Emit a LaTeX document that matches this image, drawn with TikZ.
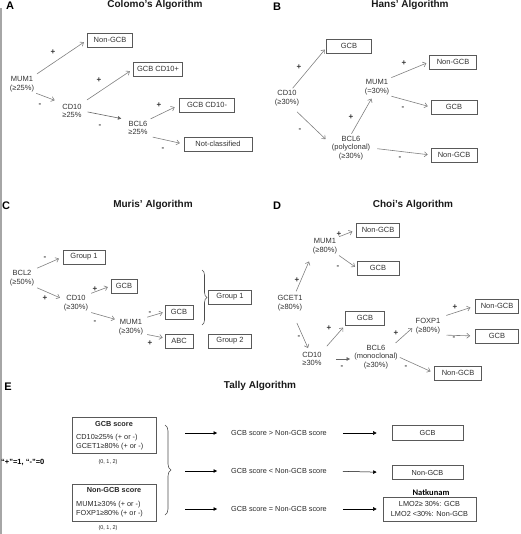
\documentclass[tikz,border=0pt]{standalone}
\usepackage{fontspec}
\setmainfont{Liberation Sans}
\newfontfamily\calib{Carlito}
\usetikzlibrary{arrows.meta,decorations.pathreplacing}
\begin{document}
\begin{tikzpicture}[x=1pt,y=-1pt,
  tx/.style={font=\fontsize{7.5}{8.8}\selectfont, text=black!80, align=center, inner sep=1pt},
  bx/.style={tx, draw=black!65, line width=0.6pt, minimum height=14pt, inner sep=2pt},
  ttl/.style={font=\fontsize{10}{12}\selectfont\bfseries, text=black!90, inner sep=0pt},
  pl/.style={font=\fontsize{11}{12}\selectfont\bfseries, inner sep=0pt},
  sg/.style={font=\fontsize{8}{9}\selectfont\bfseries, text=black!80, inner sep=0pt},
  ar/.style={draw=black!50, line width=0.6pt, -{Straight Barb[length=3pt,width=5pt]}},
  arf/.style={draw=black!60, line width=0.6pt, -{Triangle[length=3.5pt,width=3.5pt]}},
  ark/.style={draw=black, line width=0.5pt, -{Triangle[length=3.5pt,width=3.5pt]}},
  et/.style={font=\fontsize{7.3}{9}\selectfont, text=black!85, inner sep=1pt},
  ebx/.style={draw=black!65, line width=0.6pt, inner sep=0pt},
  brc/.style={draw=black!70, line width=0.6pt, decorate}
]
\useasboundingbox (0,0) rectangle (520,534);
\draw[black!35, line width=1.2pt] (1,8) -- (1,534);

% ---------------- Panel A
\node[pl] (pA) at (10,6) {A};
\node[ttl] (tA) at (155,5) {Colomo's Algorithm};
\node[bx,minimum width=45pt] (ngA) at (110,40) {Non-GCB};
\node[bx,minimum width=49pt] (g1A) at (158,69) {GCB CD10+};
\node[bx,minimum width=55pt] (g2A) at (207,105) {GCB CD10-};
\node[bx,minimum width=68pt] (ncA) at (218,144) {Not-classified};
\node[tx] (mA) at (22,84) {MUM1\\(≥25\%)};
\node[tx] (cA) at (72,111) {CD10\\≥25\%};
\node[tx] (bA) at (138,128) {BCL6\\≥25\%};
\node[sg] (sA1) at (53,52) {+};
\node[sg] (sA2) at (40,105) {-};
\node[sg] (sA3) at (99,80) {+};
\node[sg] (sA4) at (100,126) {-};
\node[sg] (sA5) at (159,105) {+};
\node[sg] (sA6) at (163,149) {-};
\draw[ar,shorten <=2pt,shorten >=4pt] (mA.north east) -- (ngA.west);
\draw[ar,shorten <=1pt,shorten >=7pt] (mA.south east) -- (cA.north west);
\draw[ar,shorten <=5pt,shorten >=4pt] (cA.north east) -- (g1A.west);
\draw[arf,shorten <=5pt,shorten >=6pt] (cA.east) -- (bA.north west);
\draw[ar,shorten <=2pt,shorten >=5pt] (bA.north east) -- (g2A.west);
\draw[ar,shorten <=4pt,shorten >=4pt] (bA.south east) -- (ncA.west);

% ---------------- Panel B
\node[pl] (pB) at (277,7) {B};
\node[ttl] (tB) at (410,5) {Hans' Algorithm};
\node[bx,minimum width=45pt] (gB) at (349,46) {GCB};
\node[bx,minimum width=47pt] (ng1B) at (453,62) {Non-GCB};
\node[bx,minimum width=46pt] (g2B) at (454,107) {GCB};
\node[bx,minimum width=46pt] (ng2B) at (454,155) {Non-GCB};
\node[tx] (cB) at (287,98) {CD10\\(≥30\%)};
\node[tx] (mB) at (377,87) {MUM1\\(=30\%)};
\node[tx] (bB) at (351,148) {BCL6\\(polyclonal)\\(≥30\%)};
\node[sg] (sB1) at (299,67) {+};
\node[sg] (sB2) at (404,63) {+};
\node[sg] (sB3) at (403,108) {-};
\node[sg] (sB4) at (300,130) {-};
\node[sg] (sB5) at (351,117) {+};
\node[sg] (sB6) at (400,158) {-};
\draw[ar,shorten <=1pt,shorten >=2pt] ([xshift=5pt]cB.north) -- ([yshift=-2pt]gB.west);
\draw[ar,shorten <=1pt,shorten >=3pt] (mB.north east) -- (ng1B.west);
\draw[ar,shorten <=1pt,shorten >=3pt] (mB.south east) -- (g2B.west);
\draw[ar,shorten <=7pt,shorten >=7pt] ([xshift=5pt]cB.south) -- ([yshift=4pt]bB.west);
\draw[ar,shorten <=1pt,shorten >=3pt] (bB.north) -- ([xshift=-4pt]mB.south);
\draw[ar,shorten <=6pt,shorten >=3pt] (bB.east) -- (ng2B.west);

% ---------------- Panel C
\node[pl] (pC) at (6,206) {C};
\node[ttl] (tC) at (153,205) {Muris' Algorithm};
\node[bx,minimum width=42pt] (g1C) at (84,257) {Group 1};
\node[tx] (b2C) at (22,278) {BCL2\\(≥50\%)};
\node[tx] (cC) at (76,303) {CD10\\(≥30\%)};
\node[bx,minimum width=26pt] (gC) at (124,286) {GCB};
\node[tx] (mC) at (131,327) {MUM1\\(≥30\%)};
\node[bx,minimum width=28pt] (g2C) at (179,312) {GCB};
\node[bx,minimum width=28pt] (abcC) at (179,341) {ABC};
\node[bx,minimum width=43pt] (gr1C) at (230,297) {Group 1};
\node[bx,minimum width=43pt] (gr2C) at (230,341) {Group 2};
\draw[brc,decoration={brace,amplitude=5pt}] (202,270) -- (202,325);
\node[sg] (sC1) at (45,258) {-};
\node[sg] (sC2) at (45,298) {+};
\node[sg] (sC3) at (95,289) {+};
\node[sg] (sC4) at (95,322) {-};
\node[sg] (sC5) at (150,313) {-};
\node[sg] (sC6) at (150,343) {+};
\draw[ar,shorten <=2pt,shorten >=4pt] (b2C.north east) -- (g1C.west);
\draw[ar,shorten <=2pt,shorten >=3pt] (b2C.south east) -- ([yshift=4pt]cC.west);
\draw[ar,shorten <=2pt,shorten >=3pt] (cC.north east) -- (gC.west);
\draw[ar,shorten <=2pt,shorten >=3pt] (cC.south east) -- ([yshift=-2pt]mC.north west);
\draw[ar,shorten <=3pt,shorten >=2pt] (mC.north east) -- (g2C.west);
\draw[ar,shorten <=3pt,shorten >=2pt] ([yshift=2pt]mC.south east) -- ([yshift=3pt]abcC.west);

% ---------------- Panel D
\node[pl] (pD) at (277,206) {D};
\node[ttl] (tD) at (413,205) {Choi's Algorithm};
\node[bx,minimum width=43pt] (ng1D) at (378,230) {Non-GCB};
\node[tx] (mD) at (325,246) {MUM1\\(≥80\%)};
\node[bx,minimum width=42pt] (g1D) at (378,268) {GCB};
\node[tx] (gcD) at (290,303) {GCET1\\(≥80\%)};
\node[tx] (cD) at (312,359) {CD10\\≥30\%};
\node[bx,minimum width=39pt] (g2D) at (365,318) {GCB};
\node[tx] (bD) at (376,357) {BCL6\\(monoclonal)\\(≥30\%)};
\node[tx] (fD) at (428,326) {FOXP1\\(≥80\%)};
\node[bx,minimum width=43pt] (ng2D) at (497,306) {Non-GCB};
\node[bx,minimum width=43pt] (g3D) at (497,336) {GCB};
\node[bx,minimum width=47pt] (ng3D) at (458,373) {Non-GCB};
\node[sg] (sD1) at (339,234) {+};
\node[sg] (sD2) at (338,267) {-};
\node[sg] (sD3) at (297,280) {+};
\node[sg] (sD4) at (299,337) {-};
\node[sg] (sD5) at (329,328) {+};
\node[sg] (sD6) at (342,367) {-};
\node[sg] (sD7) at (396,333) {+};
\node[sg] (sD8) at (455,307) {+};
\node[sg] (sD9) at (454,338) {-};
\node[sg] (sD10) at (406,367) {-};
\draw[ar,shorten <=1pt,shorten >=4pt] (mD.north east) -- (ng1D.west);
\draw[ar,shorten <=1pt,shorten >=2pt] (mD.south east) -- (g1D.west);
\draw[ar,shorten <=3pt,shorten >=7pt] ([xshift=5pt]gcD.north) -- (mD.south west);
\draw[ar,shorten <=12pt,shorten >=3pt] ([xshift=2pt]gcD.south) -- ([xshift=8pt]cD.north west);
\draw[ar,shorten <=6pt,shorten >=3pt] (cD.north east) -- (g2D.south west);
\draw[arf,shorten <=13pt,shorten >=3pt] (cD.east) -- ([yshift=-2pt]bD.west);
\draw[ar,shorten <=1pt,shorten >=3pt] ([xshift=-4pt]bD.north east) -- (fD.west);
\draw[ar,shorten <=5pt,shorten >=5pt] (fD.north east) -- (ng2D.west);
\draw[ar,shorten <=5pt,shorten >=5pt] (fD.south east) -- (g3D.west);
\draw[ar,shorten <=1pt,shorten >=4pt] (bD.east) -- (ng3D.west);

% ---------------- Panel E
\node[pl] (pE) at (8,387) {E};
\node[ttl] (tE) at (260,386) {Tally Algorithm};
\node[font=\fontsize{7.5}{9}\selectfont\bfseries, inner sep=0pt, anchor=west] (rule) at (1,462) {“+”=1, “-”=0};
\node[ebx, minimum width=84pt, minimum height=36pt] (gsc) at (114,435) {};
\node[et, font=\fontsize{7.3}{9}\selectfont\bfseries] (gsh) at (114,424) {GCB score};
\node[et, align=left, anchor=west] (gsl) at (75,442.5) {CD10≥25\% (+ or -)\\GCET1≥80\% (+ or -)};
\node[et, font=\fontsize{5.5}{7}\selectfont] (gsn) at (108,462) {(0, 1, 2)};
\node[ebx, minimum width=84pt, minimum height=37pt] (nsc) at (114,502.5) {};
\node[et, font=\fontsize{7.3}{9}\selectfont\bfseries] (nsh) at (114,490) {Non-GCB score};
\node[et, align=left, anchor=west] (nsl) at (75,509.5) {MUM1≥30\% (+ or -)\\FOXP1≥80\% (+ or -)};
\node[et, font=\fontsize{5.5}{7}\selectfont] (nsn) at (108,528) {(0, 1, 2)};
\draw[brc,decoration={brace,amplitude=6pt}] (165,425) -- (165,515);
\coordinate (e1) at (185,433);
\coordinate (e2) at (185,471);
\coordinate (e3) at (185,509);
\node[et] (t1) at (279,433) {GCB score > Non-GCB score};
\node[et] (t2) at (279,471) {GCB score < Non-GCB score};
\node[et] (t3) at (279,509) {GCB score = Non-GCB score};
\node[ebx, et, minimum width=71pt, minimum height=14.5pt] (rg) at (427.5,433) {GCB};
\node[ebx, et, minimum width=71pt, minimum height=14.5pt] (rn) at (427.5,472.5) {Non-GCB};
\node[font=\calib\fontsize{8.5}{10}\selectfont\bfseries, inner sep=0pt] (nat) at (431,492.5) {Natkunam};
\node[ebx, et, align=center, minimum width=93pt, minimum height=24pt, font=\fontsize{7.3}{9.5}\selectfont] (rl) at (429.5,509) {LMO2≥ 30\%: GCB\\LMO2 <30\%: Non-GCB};
\draw[ark,shorten >=13pt] (e1) -- (t1.west);
\draw[ark,shorten >=13pt] (e2) -- (t2.west);
\draw[ark,shorten >=13pt] (e3) -- (t3.west);
\draw[ark,shorten <=15pt,shorten >=15pt] (t1.east) -- (rg.west);
\draw[ark,shorten <=15pt,shorten >=15pt] (t2.east) -- (rn.west);
\draw[ark,shorten <=15pt,shorten >=6pt] (t3.east) -- (rl.west);
\end{tikzpicture}
\end{document}
